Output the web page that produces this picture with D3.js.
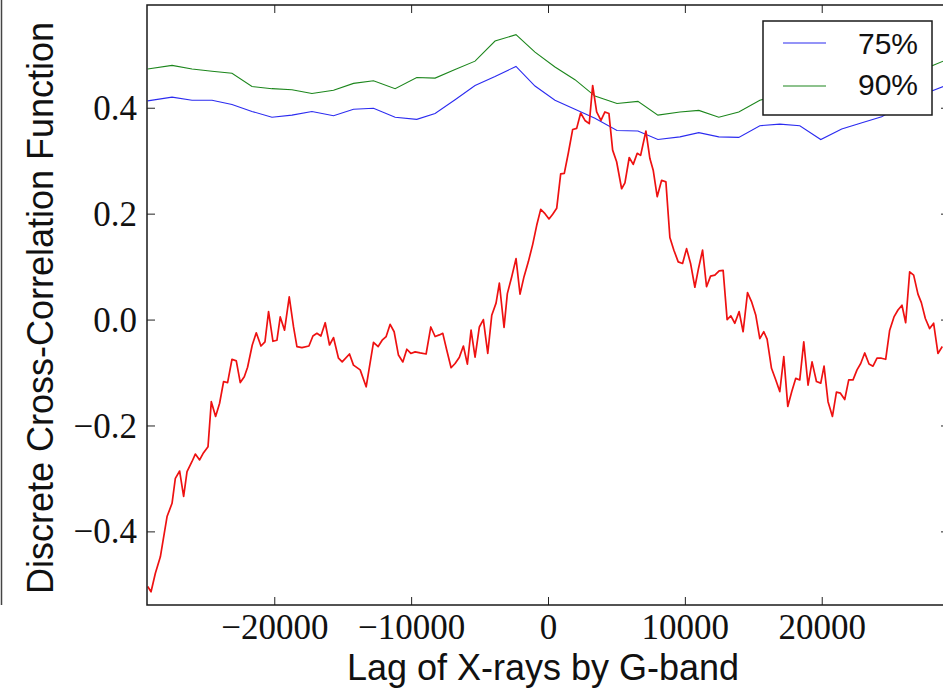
<!DOCTYPE html>
<html>
<head>
<meta charset="utf-8">
<script src="https://cdn.jsdelivr.net/npm/d3@7"></script>
<style>
  html, body { margin: 0; padding: 0; background: #fff; }
  svg { display: block; }
</style>
</head>
<body>
<div id="chart"></div>
<script>
// lag (s) of the significance curves
var bandLag = [-29250, -27470, -26010, -24550, -23090, -21630, -20170, -18710, -17250, -15670,
    -14210, -12750, -11170, -9590, -8250, -6790, -5330, -3870, -2340, -950,
    510, 1970, 3430, 5040, 6570, 8030, 9640, 11020, 12480, 13940,
    15480, 16940, 18400, 19930, 21460, 23000, 24380, 25880, 27380, 28880];

var level75 = [0.413, 0.420, 0.414, 0.414, 0.406, 0.393, 0.382, 0.386, 0.393, 0.385,
    0.397, 0.399, 0.382, 0.378, 0.389, 0.415, 0.442, 0.459, 0.478, 0.441,
    0.414, 0.397, 0.380, 0.357, 0.356, 0.340, 0.345, 0.353, 0.345, 0.344,
    0.366, 0.369, 0.366, 0.340, 0.360, 0.372, 0.383, 0.405, 0.425, 0.440];

var level90 = [0.473, 0.480, 0.473, 0.469, 0.465, 0.440, 0.436, 0.434, 0.427, 0.433,
    0.446, 0.451, 0.436, 0.457, 0.456, 0.472, 0.488, 0.526, 0.538, 0.505,
    0.477, 0.453, 0.422, 0.408, 0.412, 0.386, 0.392, 0.395, 0.382, 0.392,
    0.414, 0.425, 0.428, 0.410, 0.430, 0.440, 0.450, 0.462, 0.472, 0.488];

// discrete cross-correlation
var dcfLag = [-29250, -29005, -28689, -28324, -27835, -27470, -27229, -26915, -26623, -26375,
    -26010, -25769, -25455, -25207, -24842, -24601, -24287, -23995, -23703, -23411,
    -23090, -22776, -22484, -22192, -21951, -21608, -21316, -20973, -20681, -20418,
    -20097, -19805, -19564, -19250, -18907, -18593, -18345, -17980, -17469, -17177,
    -16885, -16593, -16279, -15965, -15673, -15308, -15038, -14505, -14213, -13724,
    -13286, -12751, -12410, -12118, -11826, -11534, -11242, -10928, -10607, -10315,
    -10023, -9709, -9344, -8906, -8563, -8249, -7935, -7687, -7395, -7081,
    -6789, -6475, -6183, -5891, -5621, -5329, -5015, -4723, -4402, -4110,
    -3796, -3555, -3212, -2971, -2650, -2336, -2044, -1752, -1438, -1117,
    -825, -533, -219, 73, 343, 635, 927, 1190, 1482, 1803,
    2095, 2387, 2701, 3015, 3263, 3555, 3869, 4161, 4453, 4723,
    5015, 5380, 5621, 5935, 6227, 6519, 6767, 7154, 7446, 7687,
    7979, 8300, 8614, 8906, 9198, 9515, 9833, 10125, 10417, 10731,
    11001, 11293, 11585, 11877, 12191, 12505, 12797, 13089, 13359, 13651,
    13965, 14257, 14578, 14870, 15184, 15476, 15768, 16009, 16330, 16644,
    16936, 17228, 17520, 17812, 18104, 18396, 18688, 19002, 19294, 19615,
    19929, 20170, 20462, 20783, 21075, 21367, 21681, 21973, 22287, 22579,
    22849, 23141, 23455, 23747, 24039, 24360, 24674, 24966, 25280, 25572,
    25864, 26134, 26426, 26718, 27032, 27280, 27572, 27886, 28178, 28492,
    28813];

var dcfVal = [-0.504, -0.514, -0.479, -0.448, -0.372, -0.347, -0.300, -0.286, -0.334, -0.287,
    -0.268, -0.254, -0.265, -0.253, -0.240, -0.155, -0.183, -0.158, -0.117, -0.119,
    -0.075, -0.078, -0.119, -0.108, -0.090, -0.048, -0.025, -0.050, -0.042, 0.015,
    -0.041, -0.039, 0.005, -0.020, 0.043, -0.014, -0.051, -0.053, -0.050, -0.031,
    -0.026, -0.031, -0.006, -0.048, -0.034, -0.073, -0.080, -0.065, -0.086, -0.095,
    -0.127, -0.043, -0.051, -0.039, -0.032, -0.009, -0.023, -0.067, -0.080, -0.056,
    -0.064, -0.061, -0.063, -0.065, -0.014, -0.032, -0.029, -0.026, -0.058, -0.091,
    -0.083, -0.071, -0.050, -0.084, -0.020, -0.071, -0.014, 0.000, -0.064, 0.008,
    0.031, 0.069, -0.015, 0.049, 0.081, 0.115, 0.048, 0.081, 0.109, 0.142,
    0.178, 0.208, 0.200, 0.190, 0.199, 0.210, 0.275, 0.276, 0.314, 0.359,
    0.361, 0.390, 0.376, 0.370, 0.442, 0.392, 0.376, 0.392, 0.389, 0.320,
    0.298, 0.247, 0.258, 0.306, 0.293, 0.314, 0.310, 0.356, 0.304, 0.282,
    0.232, 0.263, 0.260, 0.155, 0.131, 0.109, 0.106, 0.134, 0.106, 0.061,
    0.097, 0.131, 0.062, 0.082, 0.084, 0.092, 0.093, 0.000, 0.007, -0.007,
    0.015, -0.023, 0.051, 0.034, 0.008, -0.036, -0.023, -0.037, -0.092, -0.114,
    -0.136, -0.070, -0.164, -0.136, -0.111, -0.114, -0.042, -0.124, -0.080, -0.117,
    -0.120, -0.088, -0.155, -0.183, -0.137, -0.139, -0.151, -0.114, -0.114, -0.095,
    -0.083, -0.063, -0.084, -0.088, -0.073, -0.073, -0.075, -0.020, 0.005, 0.018,
    0.027, -0.006, 0.090, 0.084, 0.048, 0.032, 0.002, -0.017, -0.007, -0.064,
    -0.051];

var xTicks = [-20000, -10000, 0, 10000, 20000];
var yTicks = [-0.4, -0.2, 0.0, 0.2, 0.4];
var legendLabels = ["75%", "90%"];

var width = 943,
    height = 689,
    plotLeft = 147,
    plotRight = 949,
    plotTop = 5,
    plotBottom = 605;

var svg = d3.select("#chart").append("svg")
    .attr("width", width)
    .attr("height", height);

svg.append("rect").attr("width", width).attr("height", height).attr("fill", "#fff");

var x = d3.scaleLinear().domain([-29300, 29300]).range([plotLeft, plotRight]);
var y = d3.scaleLinear().domain([-0.539, 0.594]).range([plotBottom, plotTop]);

var minus = function(s) { return s.replace("-", "\u2212"); };
var serif = "'Liberation Serif', 'DejaVu Serif', serif";
var sans = "'Liberation Sans', Arial, sans-serif";

// edge of the neighbouring panel
svg.append("line")
    .attr("x1", 1.5).attr("x2", 1.5)
    .attr("y1", 0).attr("y2", plotBottom)
    .attr("stroke", "#444").attr("stroke-width", 1.5);

svg.append("defs").append("clipPath").attr("id", "plot")
    .append("rect")
    .attr("x", plotLeft).attr("y", plotTop)
    .attr("width", plotRight - plotLeft).attr("height", plotBottom - plotTop);

var plot = svg.append("g").attr("clip-path", "url(#plot)");

var line = d3.line()
    .x(function(d) { return x(d[0]); })
    .y(function(d) { return y(d[1]); });

plot.append("path")
    .datum(d3.zip(bandLag, level75))
    .attr("d", line)
    .attr("fill", "none")
    .attr("stroke", "#2b2bf0")
    .attr("stroke-width", 1.1);

plot.append("path")
    .datum(d3.zip(bandLag, level90))
    .attr("d", line)
    .attr("fill", "none")
    .attr("stroke", "#1c861c")
    .attr("stroke-width", 1.1);

plot.append("path")
    .datum(d3.zip(dcfLag, dcfVal))
    .attr("d", line)
    .attr("fill", "none")
    .attr("stroke", "#ee1111")
    .attr("stroke-width", 1.7)
    .attr("stroke-linejoin", "round");

// axes, ticks pointing inward on all four sides
var gx = svg.append("g")
    .attr("transform", "translate(0," + plotBottom + ")")
    .call(d3.axisBottom(x).tickValues(xTicks).tickSize(-8)
        .tickFormat(function(d) { return minus(d3.format("d")(d)); }));
gx.selectAll("text")
    .attr("y", 34).attr("dy", null)
    .style("font-family", serif).style("font-size", "35px").attr("fill", "#111");

svg.append("g")
    .attr("transform", "translate(0," + plotTop + ")")
    .call(d3.axisTop(x).tickValues(xTicks).tickSize(-8).tickFormat(""));

var gy = svg.append("g")
    .attr("transform", "translate(" + plotLeft + ",0)")
    .call(d3.axisLeft(y).tickValues(yTicks).tickSize(-8)
        .tickFormat(function(d) { return minus(d3.format(".1f")(d)); }));
gy.selectAll("text")
    .attr("x", -10).attr("dy", "0.33em")
    .style("font-family", serif).style("font-size", "35px").attr("fill", "#111");

svg.append("g")
    .attr("transform", "translate(" + plotRight + ",0)")
    .call(d3.axisRight(y).tickValues(yTicks).tickSize(-8).tickFormat(""));

svg.selectAll(".domain").remove();
svg.selectAll(".tick line").attr("stroke", "#222").attr("stroke-width", 1);

svg.append("rect")
    .attr("x", plotLeft).attr("y", plotTop)
    .attr("width", plotRight - plotLeft).attr("height", plotBottom - plotTop)
    .attr("fill", "none")
    .attr("stroke", "#1a1a1a")
    .attr("stroke-width", 1.5);

svg.append("text")
    .attr("x", 543).attr("y", 680)
    .attr("text-anchor", "middle")
    .style("font-family", sans).style("font-size", "36px").attr("fill", "#111")
    .text("Lag of X-rays by G-band");

svg.append("text")
    .attr("transform", "translate(53,308) rotate(-90)")
    .attr("text-anchor", "middle")
    .style("font-family", sans).style("font-size", "36px").attr("fill", "#111")
    .text("Discrete Cross-Correlation Function");

// legend
var legend = svg.append("g");
legend.append("rect")
    .attr("x", 763).attr("y", 21)
    .attr("width", 169).attr("height", 94)
    .attr("fill", "#fff")
    .attr("stroke", "#1a1a1a")
    .attr("stroke-width", 1.5);

var legendColors = ["#2b2bf0", "#1c861c"];
legend.selectAll(".key")
    .data(legendLabels)
    .enter()
    .append("g")
    .attr("class", "key")
    .attr("transform", function(d, i) { return "translate(0," + (43 + i * 43) + ")"; })
    .each(function(d, i) {
        var g = d3.select(this);
        g.append("line")
            .attr("x1", 783).attr("x2", 826)
            .attr("stroke", legendColors[i]).attr("stroke-width", 1.1);
        g.append("text")
            .attr("x", 858).attr("y", 10.5 - i * 1.5)
            .style("font-family", sans).style("font-size", "30px").attr("fill", "#111")
            .text(d);
    });
</script>
</body>
</html>
